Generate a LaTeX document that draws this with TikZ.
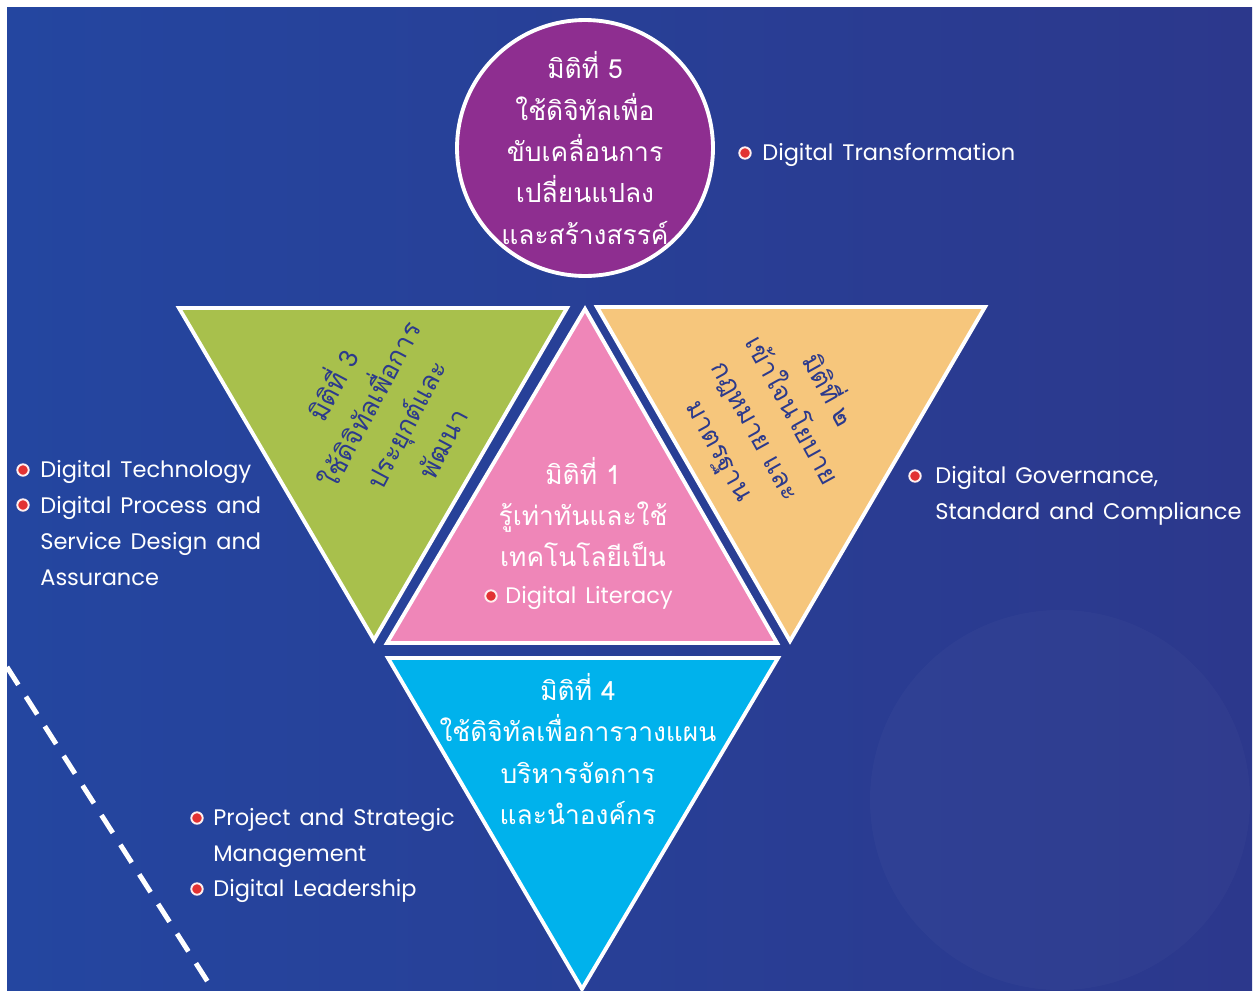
\documentclass[tikz,border=0pt]{standalone}
\usepackage{fontspec}
\setmainfont{Poppins}[WordSpace=1.5]
\newfontfamily\thaifont[Script=Thai]{Loma}
\usetikzlibrary{positioning}

\definecolor{bgleft}{RGB}{36,70,160}
\definecolor{bgright}{RGB}{44,56,140}
\definecolor{dimpurple}{RGB}{142,46,144}
\definecolor{dimgreen}{RGB}{168,192,76}
\definecolor{dimpink}{RGB}{239,134,184}
\definecolor{dimorange}{RGB}{246,198,124}
\definecolor{dimcyan}{RGB}{0,178,236}
\definecolor{inkblue}{RGB}{44,58,140}
\definecolor{dotred}{RGB}{226,50,50}

\tikzset{
  dimtri/.style={draw=white, line width=2.2pt},
  dimcircle/.style={circle, draw=white, line width=2.2pt, fill=dimpurple, minimum size=5.12cm, inner sep=0pt},
  thaitext/.style={font=\thaifont\fontsize{15}{23.5}\selectfont, align=center, inner sep=0pt},
  item/.style={font=\fontsize{12.8}{20.4}\selectfont, text=white, align=left, anchor=north west, inner sep=0pt},
  rdot/.style={circle, fill=dotred, draw=white!75!pink, line width=1.1pt, minimum size=6.5pt, inner sep=0pt}
}

\begin{document}
\begin{tikzpicture}[x=0.02cm, y=-0.02cm]
\useasboundingbox (0,0) rectangle (1258,994);
\fill[white] (0,0) rectangle (1258,994);
\shade[left color=bgleft, right color=bgright] (7,7) rectangle (1252,990);
\fill[white, opacity=0.025] (1060,800) circle[radius=190];

% dashed line at the lower left
\coordinate (D0) at (7,667) ;
\coordinate (D1) at (213,990) ;
\draw[white, line width=2.8pt, dash pattern=on 12pt off 8pt] (D0) -- (D1) ;

% triangles
\coordinate (G1) at (179,308) ;
\coordinate (G2) at (567,308) ;
\coordinate (G3) at (374,640) ;
\coordinate (P1) at (585,309) ;
\coordinate (P2) at (387,643) ;
\coordinate (P3) at (777,643) ;
\coordinate (O1) at (597,307) ;
\coordinate (O2) at (985,307) ;
\coordinate (O3) at (790,641) ;
\coordinate (C1) at (388,658) ;
\coordinate (C2) at (778,658) ;
\coordinate (C3) at (582,989) ;

\filldraw[dimtri, fill=dimgreen] (G1) -- (G2) -- (G3) -- cycle ;
\filldraw[dimtri, fill=dimpink] (P1) -- (P2) -- (P3) -- cycle ;
\filldraw[dimtri, fill=dimorange] (O1) -- (O2) -- (O3) -- cycle ;
\filldraw[dimtri, fill=dimcyan] (C1) -- (C2) -- (C3) -- cycle ;

% circle
\node[dimcircle, thaitext, text=white] (dim5) at (585,148)
  {มิติที่ 5\\ใช้ดิจิทัลเพื่อ\\ขับเคลื่อนการ\\เปลี่ยนแปลง\\และสร้างสรรค์};

% texts in the triangles
\node[thaitext, text=inkblue, rotate=62] (dim3) at (385,413)
  {มิติที่ 3\\ใช้ดิจิทัลเพื่อการ\\ประยุกต์และ\\พัฒนา};
\node[thaitext, text=inkblue, rotate=-61] (dim2) at (775,420)
  {มิติที่ ๒\\เข้าใจนโยบาย\\กฎหมาย และ\\มาตรฐาน};
\node[thaitext, text=white] (dim1) at (583,512)
  {มิติที่ 1\\รู้เท่าทันและใช้\\เทคโนโลยีเป็น};
\node[thaitext, text=white] (dim4) at (578,749)
  {มิติที่ 4\\ใช้ดิจิทัลเพื่อการวางแผน\\บริหารจัดการ\\และนำองค์กร};

% english labels
\node[item] (trans) at (762,143) {Digital Transformation};
\node[rdot] at (745,153) {};
\node[item] (literacy) at (505,586) {Digital Literacy};
\node[rdot] at (491,596) {};
\node[item] (tech) at (40,460) {Digital Technology};
\node[rdot] at (23,470) {};
\node[item] (process) at (40,496) {Digital Process and\\Service Design and\\Assurance};
\node[rdot] at (23,505) {};
\node[item] (gov) at (935,466) {Digital Governance,\\Standard and Compliance};
\node[rdot] at (915,476) {};
\node[item] (project) at (213,808) {Project and Strategic\\Management};
\node[rdot] at (197,818) {};
\node[item] (leader) at (213,879) {Digital Leadership};
\node[rdot] at (197,889) {};
\end{tikzpicture}
\end{document}
